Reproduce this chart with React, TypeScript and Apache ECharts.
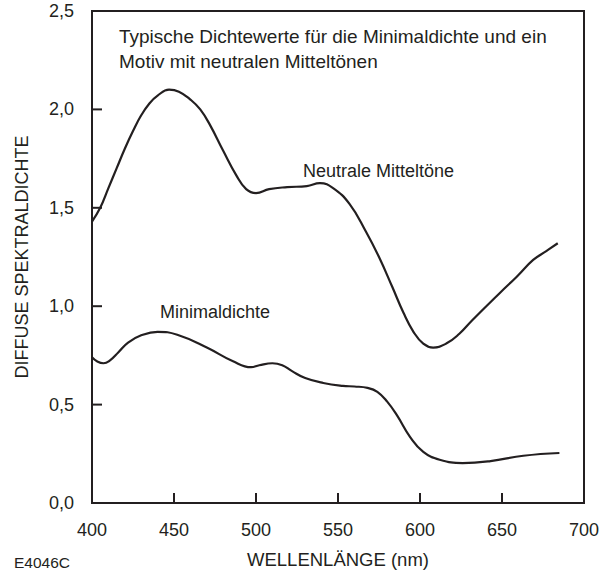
import React, { useEffect, useRef } from "react";
import * as echarts from "echarts";

const neutralNm = [400, 405, 410, 415, 420, 425, 430, 435, 440, 447, 453, 460, 466, 472, 480, 488, 494, 500, 508, 519, 531, 539, 547, 557, 567, 575, 583, 590, 596, 602, 608, 616, 624, 632, 649, 659, 669, 677, 684];
const neutralVal = [1.43, 1.5, 1.6, 1.7, 1.8, 1.89, 1.97, 2.03, 2.07, 2.1, 2.09, 2.05, 2.0, 1.92, 1.79, 1.665, 1.595, 1.575, 1.595, 1.605, 1.61, 1.625, 1.6, 1.52, 1.38, 1.25, 1.1, 0.965, 0.87, 0.81, 0.79, 0.81, 0.86, 0.93, 1.07, 1.15, 1.235, 1.28, 1.32];

const minNm = [400, 403, 407, 411, 416, 422, 430, 440, 452, 470, 486, 497, 502, 510, 516, 522, 530, 541, 553, 560, 568, 574, 580, 586, 594, 602, 612, 626, 643, 663, 685];
const minVal = [0.74, 0.72, 0.71, 0.725, 0.765, 0.815, 0.852, 0.87, 0.855, 0.79, 0.72, 0.69, 0.7, 0.71, 0.7, 0.67, 0.635, 0.61, 0.595, 0.592, 0.585, 0.565, 0.515, 0.445, 0.335, 0.26, 0.22, 0.203, 0.213, 0.24, 0.254];

const xTickValues = [400, 450, 500, 550, 600, 650, 700];
const yTickValues = [0, 0.5, 1.0, 1.5, 2.0, 2.5];

const titleLines = [
  "Typische Dichtewerte für die Minimaldichte und ein",
  "Motiv mit neutralen Mitteltönen",
];
const neutralLabel = "Neutrale Mitteltöne";
const minLabel = "Minimaldichte";
const codeLabel = "E4046C";
const xName = "WELLENLÄNGE (nm)";
const yName = "DIFFUSE SPEKTRALDICHTE";

const FONT = "'Liberation Sans', Arial, Helvetica, sans-serif";
const INK = "#231f20";

export default function App() {
  const ref = useRef<HTMLDivElement>(null);
  useEffect(() => {
    if (!ref.current) return;
    const chart = echarts.init(ref.current, undefined, { renderer: "svg" });
    const pair = (xs: number[], ys: number[]) => xs.map((x, i) => [x, ys[i]]);
    const xMin = xTickValues[0];
    const xMax = xTickValues[xTickValues.length - 1];
    const yMin = yTickValues[0];
    const yMax = yTickValues[yTickValues.length - 1];
    const tickLen = 10;

    chart.setOption({
      animation: false,
      grid: { left: 92, right: 29, top: 11, bottom: 72, show: false },
      xAxis: {
        type: "value",
        min: xMin,
        max: xMax,
        interval: 50,
        name: xName,
        nameLocation: "middle",
        nameGap: 47,
        nameTextStyle: { fontSize: 18.5, color: INK, fontFamily: FONT },
        axisLine: { show: false },
        axisTick: { show: false },
        axisLabel: { fontSize: 18, color: INK, margin: 18, fontFamily: FONT },
        splitLine: { show: false },
      },
      yAxis: {
        type: "value",
        min: yMin,
        max: yMax,
        interval: 0.5,
        name: yName,
        nameLocation: "middle",
        nameGap: 61,
        nameRotate: 90,
        nameTextStyle: { fontSize: 18, color: INK, fontFamily: FONT },
        axisLine: { show: false },
        axisTick: { show: false },
        axisLabel: {
          fontSize: 18,
          color: INK,
          margin: 18,
          fontFamily: FONT,
          formatter: (v: number) => v.toFixed(1).replace(".", ","),
        },
        splitLine: { show: false },
      },
      series: [
        {
          type: "custom",
          coordinateSystem: "cartesian2d",
          clip: false,
          silent: true,
          z: 3,
          data: [[xMin, yMin]],
          renderItem: (params: any, api: any) => {
            const bl = api.coord([xMin, yMin]);
            const tr = api.coord([xMax, yMax]);
            const children: any[] = [
              {
                type: "rect",
                shape: { x: bl[0], y: tr[1], width: tr[0] - bl[0], height: bl[1] - tr[1] },
                style: { fill: "none", stroke: INK, lineWidth: 2 },
              },
            ];
            xTickValues.slice(1, -1).forEach((x) => {
              const p = api.coord([x, yMin]);
              children.push({
                type: "line",
                shape: { x1: p[0], y1: p[1], x2: p[0], y2: p[1] - tickLen },
                style: { stroke: INK, lineWidth: 2 },
              });
            });
            yTickValues.slice(1, -1).forEach((y) => {
              const p = api.coord([xMin, y]);
              children.push({
                type: "line",
                shape: { x1: p[0], y1: p[1], x2: p[0] + tickLen, y2: p[1] },
                style: { stroke: INK, lineWidth: 2 },
              });
            });
            return { type: "group", children };
          },
        },
        {
          type: "line",
          data: pair(neutralNm, neutralVal),
          smooth: 0.45,
          symbol: "none",
          lineStyle: { color: INK, width: 2.2 },
        },
        {
          type: "line",
          data: pair(minNm, minVal),
          smooth: 0.45,
          symbol: "none",
          lineStyle: { color: INK, width: 2.2 },
        },
      ],
      graphic: [
        {
          type: "text",
          left: 119,
          top: 27,
          style: { text: titleLines[0], fontSize: 19, fill: INK, fontFamily: FONT },
        },
        {
          type: "text",
          left: 119,
          top: 52,
          style: { text: titleLines[1], fontSize: 19, fill: INK, fontFamily: FONT },
        },
        {
          type: "text",
          left: 303,
          top: 162,
          style: { text: neutralLabel, fontSize: 18, fill: INK, fontFamily: FONT },
        },
        {
          type: "text",
          left: 160,
          top: 303,
          style: { text: minLabel, fontSize: 18, fill: INK, fontFamily: FONT },
        },
        {
          type: "text",
          left: 14,
          top: 554,
          style: { text: codeLabel, fontSize: 15.5, fill: INK, fontFamily: FONT },
        },
      ],
    });
    return () => chart.dispose();
  }, []);
  return (
    <div
      ref={ref}
      style={{ position: "absolute", left: 0, top: 0, width: 613, height: 575 }}
    />
  );
}
